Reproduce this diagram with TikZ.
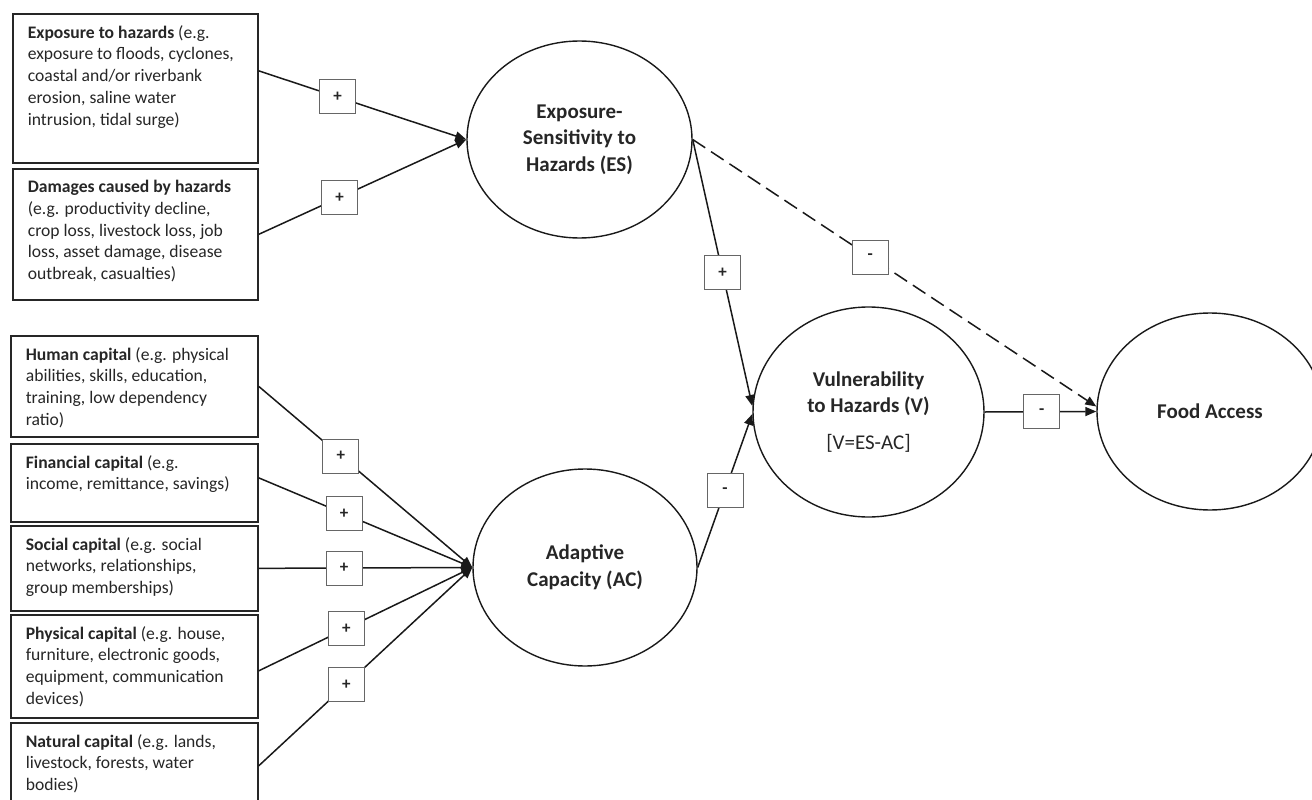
\documentclass[tikz,border=0pt]{standalone}
\usepackage{fontspec}
\setmainfont{Carlito}
\usetikzlibrary{shapes.geometric,arrows.meta}
\newcommand{\bxt}[3]{\parbox[t][#1][t]{#2}{\raggedright #3}}
\begin{document}
\begin{tikzpicture}[x=1pt,y=-1pt,
 inbox/.style={draw=black!85, line width=1.7pt, anchor=north west, inner xsep=15pt, inner ysep=11.5pt, font=\fontsize{17.6}{21.7}\selectfont, text=black!85},
 var/.style={ellipse, draw=black!90, line width=1.4pt, font=\fontsize{21}{26.5}\selectfont\bfseries, align=center, inner sep=0pt, text=black!85},
 sign/.style={draw=black!60, fill=white, line width=0.9pt, solid, minimum width=36pt, minimum height=34pt, inner sep=0pt, font=\fontsize{17}{17}\selectfont\bfseries, text=black!85},
 link/.style={line width=1.5pt, draw=black!90, -{Triangle[length=11pt,width=9pt]}},
 dashlink/.style={link, dash pattern=on 15pt off 7pt}
]
\useasboundingbox (0,0) rectangle (1312,800);
\clip (0,0) rectangle (1312,800);

% input boxes
\node[inbox] (b1) at (12,13) {\bxt{126pt}{215pt}{\textbf{Exposure to hazards} (e.g.\\exposure to floods, cyclones,\\coastal and/or riverbank\\erosion, saline water\\intrusion, tidal surge)}};
\node[inbox] (b2) at (12,168) {\bxt{108pt}{215pt}{\textbf{Damages caused by hazards}\\(e.g. productivity decline,\\crop loss, livestock loss, job\\loss, asset damage, disease\\outbreak, casualties)}};
\node[inbox] (hc) at (10,335) {\bxt{78pt}{217pt}{\textbf{Human capital} (e.g. physical\\abilities, skills, education,\\training, low dependency\\ratio)}};
\node[inbox] (fc) at (10,443) {\bxt{55pt}{217pt}{\textbf{Financial capital} (e.g.\\income, remittance, savings)}};
\node[inbox] (sc) at (10,525) {\bxt{62pt}{217pt}{\textbf{Social capital} (e.g. social\\networks, relationships,\\group memberships)}};
\node[inbox] (pc) at (10,614) {\bxt{80pt}{217pt}{\textbf{Physical capital} (e.g. house,\\furniture, electronic goods,\\equipment, communication\\devices)}};
\node[inbox] (nc) at (10,722) {\bxt{63pt}{217pt}{\textbf{Natural capital} (e.g. lands,\\livestock, forests, water\\bodies)}};

% latent variables
\node[var, minimum width=225pt, minimum height=197pt] (es) at (579.5,139.5) {Exposure-\\Sensitivity to\\Hazards (ES)};
\node[var, minimum width=224pt, minimum height=197pt] (ac) at (585,567.5) {Adaptive\\Capacity (AC)};
\node[var, minimum width=231pt, minimum height=210pt] (v) at (868.5,412) {Vulnerability\\to Hazards (V)\\[10pt]{\mdseries [V=ES-AC]}};
\node[var, minimum width=226pt, minimum height=197pt] (fa) at (1210,411.5) {Food Access};

% connectors
\draw[link] ([yshift=17.5pt]b1.east) -- node[sign,pos=0.38]{+} (es.west);
\draw[link] (b2.east) -- node[sign,pos=0.39]{+} (es.west);
\draw[link] (hc.east) -- node[sign,pos=0.385]{+} (ac.west);
\draw[link] ([yshift=5pt]fc.east) -- node[sign,pos=0.40]{+} (ac.west);
\draw[link] (sc.east) -- node[sign,pos=0.40]{+} (ac.west);
\draw[link] ([yshift=-4.5pt]pc.east) -- node[sign,pos=0.41]{+} (ac.west);
\draw[link] (nc.east) -- node[sign,pos=0.41]{+} (ac.west);
\draw[link] (es.east) -- node[sign,pos=0.5]{+} ([yshift=6pt]v.west);
\draw[link] (ac.east) -- node[sign,pos=0.5]{-} ([yshift=-2pt]v.west);
\draw[dashlink] (es.east) -- node[sign,pos=0.44]{-} ([yshift=5pt]fa.west);
\draw[link] (v.east) -- node[sign,pos=0.51]{-} (fa.west);
\end{tikzpicture}
\end{document}
